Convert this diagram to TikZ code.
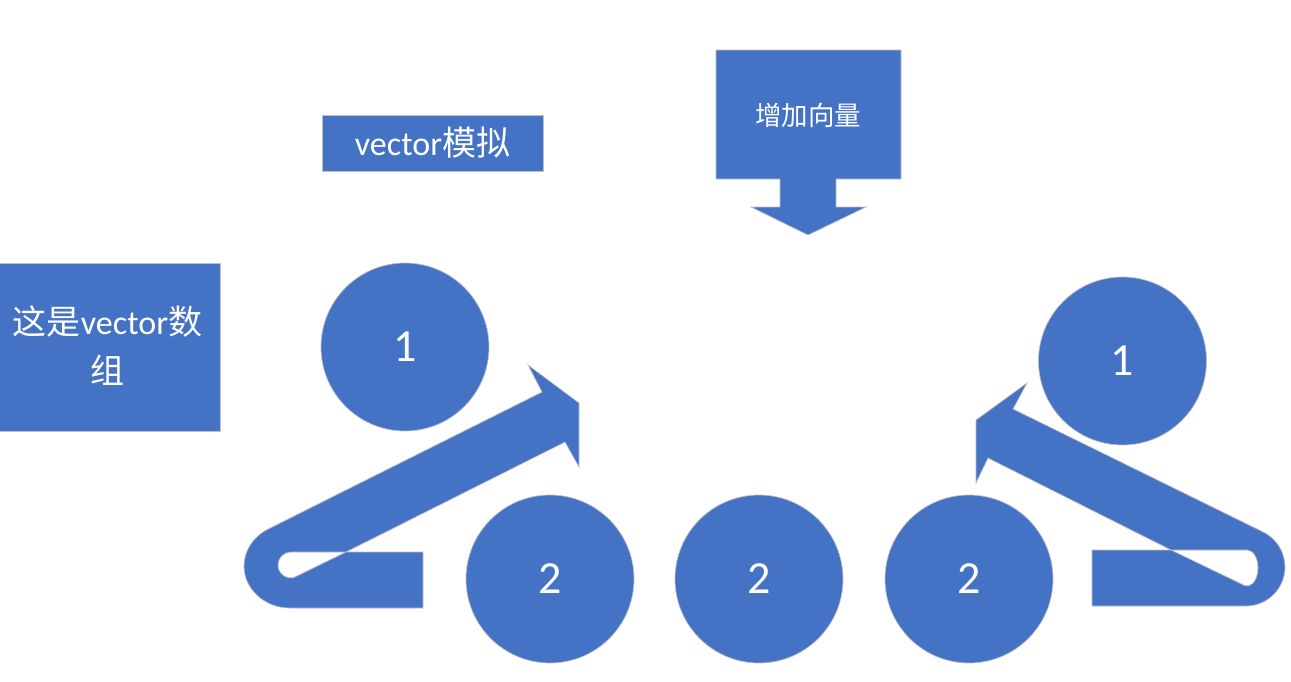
\documentclass[tikz,border=0pt]{standalone}
\usepackage{fontspec}
\setmainfont{Carlito}
\newfontfamily\cjk{Noto Sans CJK SC}
\definecolor{pblue}{RGB}{68,114,196}
\definecolor{edgegray}{RGB}{191,191,191}
\begin{document}
\begin{tikzpicture}[x=1pt,y=1pt,yscale=-1,
  shapefill/.style={fill=pblue,draw=edgegray,line width=0.7pt},
  ballnode/.style={circle,shapefill,minimum size=168pt,inner sep=0pt,text=white,font=\fontsize{46}{52}\selectfont},
  boxnode/.style={rectangle,shapefill,inner sep=0pt},
  txt/.style={text=white,inner sep=0pt,align=center}]
\useasboundingbox (0,0) rectangle (1291,681);

% boxes
\node[boxnode,minimum width=232pt,minimum height=168pt] (arrbox) at (104,347) {};
\node[txt,font=\fontsize{34}{49}\selectfont] (arrtxt) at (107.5,346) {{\cjk 这是}vector{\cjk 数}\\{\cjk 组}};

\node[boxnode,minimum width=221pt,minimum height=56pt] (simbox) at (432.5,143)
  {\color{white}\fontsize{34}{40}\selectfont vector{\cjk 模拟}};

% callout with down arrow
\path[shapefill] (716,50) -- (901,50) -- (901,179) -- (836,179) -- (836,207) -- (866,207)
  -- (808,235) -- (751,207) -- (780,207) -- (780,179) -- (716,179) -- cycle;
\node[txt,font=\fontsize{26.5}{30}\selectfont] (addtxt) at (808,115) {{\cjk 增加向量}};

% circles
\node[ballnode] (l1) at (405,347) {1};
\node[ballnode] (r1) at (1122.5,361) {1};
\node[ballnode] (b1) at (550,579) {2};
\node[ballnode] (b2) at (759,579) {2};
\node[ballnode] (b3) at (969,579) {2};

% left u-turn arrow
\path[shapefill,even odd rule]
  (423,552) -- (423,608) -- (290,608) arc[start angle=90,end angle=240,x radius=46,y radius=42]
  -- (542,392) -- (528,365) -- (579,403) -- (579,467) -- (565,442) -- (346,552) -- cycle
  (346,552) -- (291,552) arc[start angle=270,end angle=80,radius=13] -- cycle;

% right u-turn arrow
\path[shapefill,even odd rule]
  (1092,550) -- (1092,606) -- (1246,606) arc[start angle=90,end angle=-62,radius=39]
  -- (1013,409) -- (1027,383) -- (976,420) -- (976,483) -- (988,458) -- (1171,550) -- cycle
  (1171,550) -- (1247,550) arc[start angle=-90,end angle=100,x radius=11,y radius=18] -- cycle;
\end{tikzpicture}
\end{document}
